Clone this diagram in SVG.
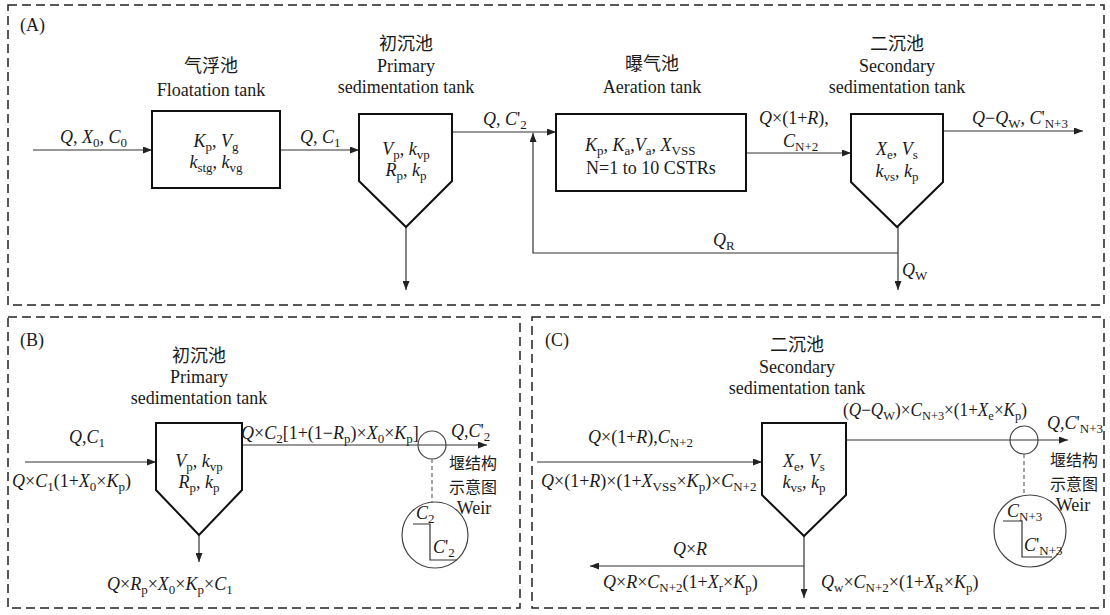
<svg xmlns="http://www.w3.org/2000/svg" width="1110" height="615" viewBox="0 0 1110 615">
<defs>
<marker id="ah" markerWidth="9" markerHeight="7" refX="9" refY="3.5" orient="auto" markerUnits="userSpaceOnUse"><path d="M0,0 L9,3.5 L0,7 Z" fill="#222"/></marker>
<style>
.t{font-family:"Liberation Serif","Times New Roman",serif;font-size:18px;fill:#1a1a1a}
.m{text-anchor:middle}
.cn{font-family:"Noto Sans CJK SC",sans-serif;font-size:18px;fill:#1a1a1a}
.w{font-family:"Noto Sans CJK SC",sans-serif;font-size:16px;fill:#1a1a1a;text-anchor:middle}
.i{font-style:italic}
.s{font-size:13px}
.frame{fill:none;stroke:#222;stroke-width:1.5;stroke-dasharray:9 5}
.box{fill:#fff;stroke:#111;stroke-width:2}
.ln{fill:none;stroke:#333;stroke-width:1.2}
.arr{marker-end:url(#ah)}
.dash{fill:none;stroke:#666;stroke-width:1.2;stroke-dasharray:4 3}
.ring{fill:none;stroke:#444;stroke-width:1.2}
</style>
</defs>
<rect width="1110" height="615" fill="#fff"/>
<g id="frames">
<rect class="frame" x="8" y="5" width="1096" height="300"/>
<rect class="frame" x="8" y="317" width="512" height="291"/>
<rect class="frame" x="532" y="317" width="572" height="291"/>
<text class="t" x="20" y="31">(A)</text>
<text class="t" x="20" y="346">(B)</text>
<text class="t" x="545" y="346">(C)</text>
</g>
<g id="connectors">
<path class="ln arr" d="M33,150 H152"/>
<path class="ln arr" d="M280,150 H359"/>
<path class="ln arr" d="M452,132 H556"/>
<path class="ln arr" d="M746,153 H851"/>
<path class="ln arr" d="M943,131 H1083"/>
<path class="ln arr" d="M406,227 V290"/>
<path class="ln arr" d="M898,227 V290"/>
<path class="ln arr" d="M898,253 H533 V133"/>
<path class="ln arr" d="M25,462 H156"/>
<path class="ln arr" d="M199,535 V562"/>
<path class="ln arr" d="M242,445 H487"/>
<path class="ln arr" d="M537,462 H762"/>
<path class="ln arr" d="M804,536 V598"/>
<path class="ln arr" d="M804,566 H590"/>
<path class="ln arr" d="M846,440 H1068"/>
</g>
<g id="labelsA">
<text class="t" x="60" y="143"><tspan class="i">Q</tspan>, <tspan class="i">X</tspan><tspan class="s" dy="4">0</tspan><tspan dy="-4">, </tspan><tspan class="i">C</tspan><tspan class="s" dy="4">0</tspan></text>
<text class="t" x="300" y="143"><tspan class="i">Q</tspan>, <tspan class="i">C</tspan><tspan class="s" dy="4">1</tspan></text>
<text class="t" x="483" y="125"><tspan class="i">Q</tspan>, <tspan class="i">C</tspan>'<tspan class="s" dy="4">2</tspan></text>
<text class="t" x="759" y="124"><tspan class="i">Q</tspan>×(1+<tspan class="i">R</tspan>),</text>
<text class="t" x="783" y="147"><tspan class="i">C</tspan><tspan class="s" dy="4">N+2</tspan></text>
<text class="t" x="972" y="124"><tspan class="i">Q</tspan>−<tspan class="i">Q</tspan><tspan class="s" dy="4">W</tspan><tspan dy="-4">, </tspan><tspan class="i">C</tspan>'<tspan class="s" dy="4">N+3</tspan></text>
<text class="t" x="713" y="246"><tspan class="i">Q</tspan><tspan class="s" dy="4">R</tspan></text>
<text class="t" x="902" y="276"><tspan class="i">Q</tspan><tspan class="s" dy="4">W</tspan></text>
</g>
<g id="floatation">
<rect class="box" x="152" y="111" width="128" height="77"/>
<text class="cn m" x="211" y="72">气浮池</text>
<text class="t m" x="211" y="96">Floatation tank</text>
<text class="t m" x="216" y="147"><tspan class="i">K</tspan><tspan class="s" dy="4">p</tspan><tspan dy="-4">, </tspan><tspan class="i">V</tspan><tspan class="s" dy="4">g</tspan></text>
<text class="t m" x="216" y="168"><tspan class="i">k</tspan><tspan class="s" dy="4">stg</tspan><tspan dy="-4">, </tspan><tspan class="i">k</tspan><tspan class="s" dy="4">vg</tspan></text>
</g>
<g id="primaryA">
<path class="box" d="M359,114 H452 V181 L406,227 L359,181 Z"/>
<text class="cn m" x="406" y="50">初沉池</text>
<text class="t m" x="406" y="72">Primary</text>
<text class="t m" x="406" y="93">sedimentation tank</text>
<text class="t m" x="406" y="155"><tspan class="i">V</tspan><tspan class="s" dy="4">p</tspan><tspan dy="-4">, </tspan><tspan class="i">k</tspan><tspan class="s" dy="4">vp</tspan></text>
<text class="t m" x="406" y="176"><tspan class="i">R</tspan><tspan class="s" dy="4">p</tspan><tspan dy="-4">, </tspan><tspan class="i">k</tspan><tspan class="s" dy="4">p</tspan></text>
</g>
<g id="aeration">
<rect class="box" x="556" y="114" width="190" height="77"/>
<text class="cn m" x="652" y="70">曝气池</text>
<text class="t m" x="652" y="93">Aeration tank</text>
<text class="t" x="585" y="151"><tspan class="i">K</tspan><tspan class="s" dy="4">p</tspan><tspan dy="-4">, </tspan><tspan class="i">K</tspan><tspan class="s" dy="4">a</tspan><tspan dy="-4">,</tspan><tspan class="i">V</tspan><tspan class="s" dy="4">a</tspan><tspan dy="-4">, </tspan><tspan class="i">X</tspan><tspan class="s" dy="4">VSS</tspan></text>
<text class="t" x="586" y="174">N=1 to 10 CSTRs</text>
</g>
<g id="secondaryA">
<path class="box" d="M851,114 H943 V182 L897,227 L851,182 Z"/>
<text class="cn m" x="897" y="50">二沉池</text>
<text class="t m" x="897" y="72">Secondary</text>
<text class="t m" x="897" y="93">sedimentation tank</text>
<text class="t m" x="897" y="155"><tspan class="i">X</tspan><tspan class="s" dy="4">e</tspan><tspan dy="-4">, </tspan><tspan class="i">V</tspan><tspan class="s" dy="4">s</tspan></text>
<text class="t m" x="897" y="177"><tspan class="i">k</tspan><tspan class="s" dy="4">vs</tspan><tspan dy="-4">, </tspan><tspan class="i">k</tspan><tspan class="s" dy="4">p</tspan></text>
</g>
<g id="primaryB">
<path class="box" d="M156,423 H242 V490 L199,535 L156,490 Z"/>
<text class="cn m" x="199" y="362">初沉池</text>
<text class="t m" x="199" y="383">Primary</text>
<text class="t m" x="199" y="404">sedimentation tank</text>
<text class="t m" x="199" y="467"><tspan class="i">V</tspan><tspan class="s" dy="4">p</tspan><tspan dy="-4">, </tspan><tspan class="i">k</tspan><tspan class="s" dy="4">vp</tspan></text>
<text class="t m" x="199" y="488"><tspan class="i">R</tspan><tspan class="s" dy="4">p</tspan><tspan dy="-4">, </tspan><tspan class="i">k</tspan><tspan class="s" dy="4">p</tspan></text>
</g>
<g id="labelsB">
<text class="t m" x="87" y="443"><tspan class="i">Q</tspan>,<tspan class="i">C</tspan><tspan class="s" dy="4">1</tspan></text>
<text class="t" x="12" y="487"><tspan class="i">Q</tspan>×<tspan class="i">C</tspan><tspan class="s" dy="4">1</tspan><tspan dy="-4">(1+</tspan><tspan class="i">X</tspan><tspan class="s" dy="4">0</tspan><tspan dy="-4">×</tspan><tspan class="i">K</tspan><tspan class="s" dy="4">p</tspan><tspan dy="-4">)</tspan></text>
<text class="t" x="107" y="590"><tspan class="i">Q</tspan>×<tspan class="i">R</tspan><tspan class="s" dy="4">p</tspan><tspan dy="-4">×</tspan><tspan class="i">X</tspan><tspan class="s" dy="4">0</tspan><tspan dy="-4">×</tspan><tspan class="i">K</tspan><tspan class="s" dy="4">p</tspan><tspan dy="-4">×</tspan><tspan class="i">C</tspan><tspan class="s" dy="4">1</tspan></text>
<text class="t" x="241" y="439"><tspan class="i">Q</tspan>×<tspan class="i">C</tspan><tspan class="s" dy="4">2</tspan><tspan dy="-4">[1+(1−</tspan><tspan class="i">R</tspan><tspan class="s" dy="4">p</tspan><tspan dy="-4">)×</tspan><tspan class="i">X</tspan><tspan class="s" dy="4">0</tspan><tspan dy="-4">×</tspan><tspan class="i">K</tspan><tspan class="s" dy="4">p</tspan><tspan dy="-4">]</tspan></text>
<text class="t" x="451" y="437"><tspan class="i">Q</tspan>,<tspan class="i">C</tspan>'<tspan class="s" dy="4">2</tspan></text>
</g>
<g id="weirB">
<circle class="ring" cx="432" cy="445" r="14"/>
<path class="dash" d="M432,459 V502"/>
<circle class="ring" cx="435" cy="535" r="33"/>
<path class="ln" d="M413,524 H430 V560 H457"/>
<text class="t" x="416" y="519"><tspan class="i">C</tspan><tspan class="s" dy="4">2</tspan></text>
<text class="t" x="433" y="553"><tspan class="i">C</tspan>'<tspan class="s" dy="4">2</tspan></text>
<text class="w" x="473" y="469">堰结构</text>
<text class="w" x="473" y="493">示意图</text>
<text class="t m" x="474" y="514">Weir</text>
</g>
<g id="secondaryC">
<path class="box" d="M762,423 H846 V495 L804,536 L762,495 Z"/>
<text class="cn m" x="797" y="351">二沉池</text>
<text class="t m" x="797" y="373">Secondary</text>
<text class="t m" x="797" y="394">sedimentation tank</text>
<text class="t m" x="804" y="467"><tspan class="i">X</tspan><tspan class="s" dy="4">e</tspan><tspan dy="-4">, </tspan><tspan class="i">V</tspan><tspan class="s" dy="4">s</tspan></text>
<text class="t m" x="804" y="488"><tspan class="i">k</tspan><tspan class="s" dy="4">vs</tspan><tspan dy="-4">, </tspan><tspan class="i">k</tspan><tspan class="s" dy="4">p</tspan></text>
</g>
<g id="labelsC">
<text class="t" x="588" y="443"><tspan class="i">Q</tspan>×(1+<tspan class="i">R</tspan>),<tspan class="i">C</tspan><tspan class="s" dy="4">N+2</tspan></text>
<text class="t" x="541" y="487"><tspan class="i">Q</tspan>×(1+<tspan class="i">R</tspan>)×(1+<tspan class="i">X</tspan><tspan class="s" dy="4">VSS</tspan><tspan dy="-4">×</tspan><tspan class="i">K</tspan><tspan class="s" dy="4">p</tspan><tspan dy="-4">)×</tspan><tspan class="i">C</tspan><tspan class="s" dy="4">N+2</tspan></text>
<text class="t m" x="690" y="555"><tspan class="i">Q</tspan>×<tspan class="i">R</tspan></text>
<text class="t" x="603" y="588"><tspan class="i">Q</tspan>×<tspan class="i">R</tspan>×<tspan class="i">C</tspan><tspan class="s" dy="4">N+2</tspan><tspan dy="-4">(1+</tspan><tspan class="i">X</tspan><tspan class="s" dy="4">r</tspan><tspan dy="-4">×</tspan><tspan class="i">K</tspan><tspan class="s" dy="4">p</tspan><tspan dy="-4">)</tspan></text>
<text class="t" x="821" y="588"><tspan class="i">Q</tspan><tspan class="s" dy="4">w</tspan><tspan dy="-4">×</tspan><tspan class="i">C</tspan><tspan class="s" dy="4">N+2</tspan><tspan dy="-4">×(1+</tspan><tspan class="i">X</tspan><tspan class="s" dy="4">R</tspan><tspan dy="-4">×</tspan><tspan class="i">K</tspan><tspan class="s" dy="4">p</tspan><tspan dy="-4">)</tspan></text>
<text class="t" x="843" y="416" textLength="184" lengthAdjust="spacingAndGlyphs">(<tspan class="i">Q</tspan>−<tspan class="i">Q</tspan><tspan class="s" dy="4">W</tspan><tspan dy="-4">)×</tspan><tspan class="i">C</tspan><tspan class="s" dy="4">N+3</tspan><tspan dy="-4">×(1+</tspan><tspan class="i">X</tspan><tspan class="s" dy="4">e</tspan><tspan dy="-4">×</tspan><tspan class="i">K</tspan><tspan class="s" dy="4">p</tspan><tspan dy="-4">)</tspan></text>
<text class="t" x="1047" y="429"><tspan class="i">Q</tspan>,<tspan class="i">C</tspan>'<tspan class="s" dy="4">N+3</tspan></text>
</g>
<g id="weirC">
<circle class="ring" cx="1024" cy="440" r="14"/>
<path class="dash" d="M1024,454 V496"/>
<circle class="ring" cx="1030" cy="531" r="36"/>
<path class="ln" d="M1003,521 H1022 V557 H1052"/>
<text class="t" x="1007" y="517"><tspan class="i">C</tspan><tspan class="s" dy="4">N+3</tspan></text>
<text class="t" x="1024" y="551"><tspan class="i">C</tspan>'<tspan class="s" dy="4">N+3</tspan></text>
<text class="w" x="1074" y="466">堰结构</text>
<text class="w" x="1074" y="490">示意图</text>
<text class="t m" x="1073" y="511">Weir</text>
</g>
</svg>
